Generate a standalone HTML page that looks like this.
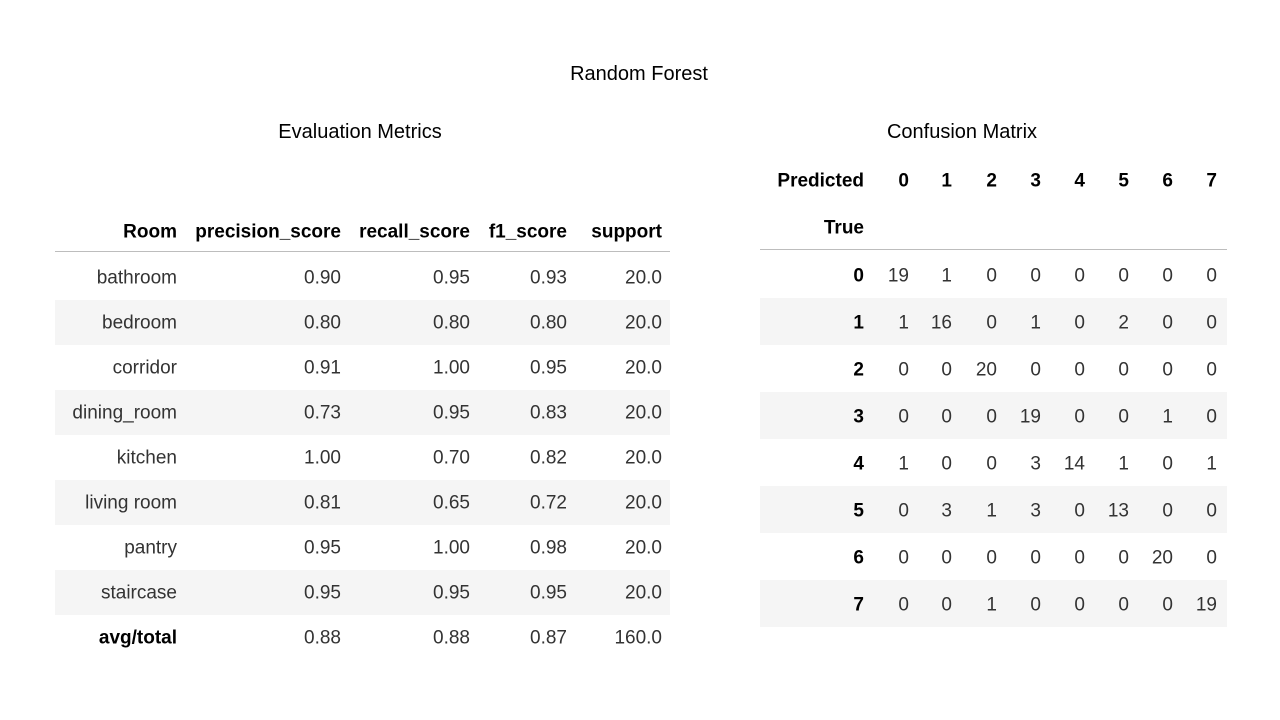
<!DOCTYPE html>
<html><head><meta charset="utf-8">
<style>
body{margin:0;width:1280px;height:720px;background:#fff;position:relative;overflow:hidden;font-family:"Liberation Sans",sans-serif;}
.t{position:absolute;white-space:nowrap;line-height:1;}
.title{font-size:20px;color:#000;transform:translateX(-50%);}
.cell{font-size:19px;color:#333;transform:translate(-100%,-50%);}
.b{font-weight:bold;color:#000;}
.band{position:absolute;background:#f5f5f5;}
.rule{position:absolute;height:1px;background:#bdbdbd;}
</style></head><body>
<div class="t title" style="left:639px;top:64px">Random Forest</div>
<div class="t title" style="left:360px;top:122px">Evaluation Metrics</div>
<div class="t title" style="left:962px;top:122px">Confusion Matrix</div>
<div id="root"></div>
<script>
const rooms=["bathroom","bedroom","corridor","dining_room","kitchen","living room","pantry","staircase","avg/total"];
const precision=["0.90","0.80","0.91","0.73","1.00","0.81","0.95","0.95","0.88"];
const recall=["0.95","0.80","1.00","0.95","0.70","0.65","1.00","0.95","0.88"];
const f1=["0.93","0.80","0.95","0.83","0.82","0.72","0.98","0.95","0.87"];
const support=["20.0","20.0","20.0","20.0","20.0","20.0","20.0","20.0","160.0"];
const metricHeaders=["Room","precision_score","recall_score","f1_score","support"];
const cmLabels=["0","1","2","3","4","5","6","7"];
const cm=[[19,1,0,0,0,0,0,0],[1,16,0,1,0,2,0,0],[0,0,20,0,0,0,0,0],[0,0,0,19,0,0,1,0],[1,0,0,3,14,1,0,1],[0,3,1,3,0,13,0,0],[0,0,0,0,0,0,20,0],[0,0,1,0,0,0,0,19]];
const root=document.getElementById('root');
function txt(s,x,y,cls,name){const d=document.createElement('div');d.className='t cell '+(cls||'');d.textContent=s;d.style.left=x+'px';d.style.top=y+'px';


root.appendChild(d);}
function box(cls,x,y,w,h,name){const d=document.createElement('div');d.className=cls;d.style.left=x+'px';d.style.top=y+'px';d.style.width=w+'px';if(h)d.style.height=h+'px';


root.appendChild(d);}
// metrics table
const mCols=[177,341,470,567,662];const rowH=45;const m0=255;
rooms.forEach((r,i)=>{if(i%2==1)box('band',55,m0+i*rowH,615,rowH,'metrics-row-band');});
box('rule',55,251,615,0,'metrics-header-rule');
metricHeaders.forEach((h,j)=>txt(h,mCols[j],232,'b','metrics-header-'+h));
const cols=[rooms,precision,recall,f1,support];
rooms.forEach((r,i)=>{const y=m0+i*rowH+rowH/2;const last=i==rooms.length-1;
cols.forEach((c,j)=>txt(c[i],mCols[j],y,(j==0&&last)?'b':'','metrics-cell'));});
// confusion matrix
const cX=[909,952,997,1041,1085,1129,1173,1217];const c0=251;const cH=47;
cm.forEach((r,i)=>{if(i%2==1)box('band',760,c0+i*cH,467,cH,'cm-row-band');});
box('rule',760,249,467,0,'cm-header-rule');
txt('Predicted',864,181,'b','cm-predicted-label');
txt('True',864,228,'b','cm-true-label');
cmLabels.forEach((l,j)=>txt(l,cX[j],181,'b','cm-col-header'));
cm.forEach((row,i)=>{const y=c0+i*cH+cH/2+1;txt(cmLabels[i],864,y,'b','cm-row-header');
row.forEach((v,j)=>txt(String(v),cX[j],y,'','cm-cell'));});
</script>
</body></html>
